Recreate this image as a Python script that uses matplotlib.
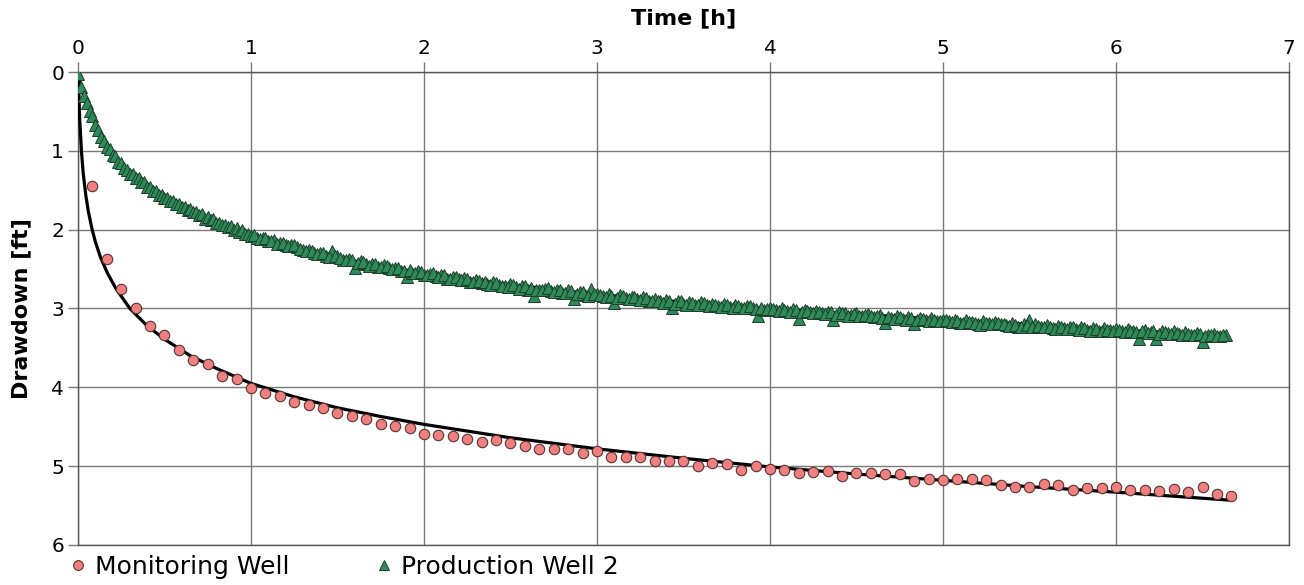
import matplotlib

matplotlib.use("Agg")
import matplotlib.pyplot as plt
from matplotlib.lines import Line2D

# Monitoring well observations (time in hours, drawdown in ft)
mon_time = [
    0.083, 0.167, 0.250, 0.333, 0.417, 0.500, 0.583, 0.667, 0.750, 0.833,
    0.917, 1.000, 1.083, 1.167, 1.250, 1.333, 1.417, 1.500, 1.583, 1.667,
    1.750, 1.833, 1.917, 2.000, 2.083, 2.167, 2.250, 2.333, 2.417, 2.500,
    2.583, 2.667, 2.750, 2.833, 2.917, 3.000, 3.083, 3.167, 3.250, 3.333,
    3.417, 3.500, 3.583, 3.667, 3.750, 3.833, 3.917, 4.000, 4.083, 4.167,
    4.250, 4.333, 4.417, 4.500, 4.583, 4.667, 4.750, 4.833, 4.917, 5.000,
    5.083, 5.167, 5.250, 5.333, 5.417, 5.500, 5.583, 5.667, 5.750, 5.833,
    5.917, 6.000, 6.083, 6.167, 6.250, 6.333, 6.417, 6.500, 6.583, 6.667,
]
mon_draw = [
    1.44, 2.37, 2.75, 3.00, 3.22, 3.34, 3.53, 3.65, 3.70, 3.86,
    3.90, 4.01, 4.07, 4.11, 4.18, 4.22, 4.26, 4.33, 4.37, 4.40,
    4.47, 4.49, 4.52, 4.59, 4.60, 4.62, 4.65, 4.69, 4.67, 4.71,
    4.75, 4.78, 4.78, 4.78, 4.83, 4.81, 4.89, 4.89, 4.89, 4.93,
    4.93, 4.94, 5.00, 4.96, 4.97, 5.05, 5.00, 5.03, 5.05, 5.09,
    5.08, 5.06, 5.12, 5.09, 5.09, 5.10, 5.10, 5.19, 5.16, 5.17,
    5.16, 5.16, 5.18, 5.24, 5.26, 5.27, 5.23, 5.24, 5.30, 5.28,
    5.28, 5.27, 5.30, 5.30, 5.32, 5.29, 5.33, 5.27, 5.35, 5.38,
]

# fitted curve, monitoring well
mon_fit_time = [
    0.0, 0.003, 0.005, 0.01, 0.02, 0.03, 0.045, 0.06, 0.08, 0.1, 0.13,
    0.17, 0.22, 0.3, 0.4, 0.5, 0.65, 0.8, 1.0, 1.25, 1.5, 1.75, 2.0,
    2.5, 3.0, 3.5, 4.0, 4.5, 5.0, 5.5, 6.0, 6.65,
]
mon_fit_draw = [
    0.0, 0.08, 0.25, 0.6, 1.0, 1.28, 1.56, 1.77, 1.98, 2.15, 2.35,
    2.55, 2.75, 3.0, 3.22, 3.39, 3.60, 3.76, 3.95, 4.12, 4.26, 4.37, 4.47,
    4.64, 4.78, 4.90, 5.01, 5.10, 5.18, 5.26, 5.33, 5.43,
]

# Production well 2 observations, time in minutes (every minute for the
# first hour, then even and odd minutes kept in two lists)
prod_minutes = list(range(0, 61)) + list(range(62, 399, 2))
prod_draw = [
    0.02, 0.19, 0.31, 0.39, 0.49, 0.56, 0.67, 0.73, 0.83, 0.87,
    0.95, 0.98, 1.05, 1.07, 1.14, 1.16, 1.22, 1.24, 1.29, 1.30,
    1.35, 1.35, 1.39, 1.40, 1.46, 1.46, 1.51, 1.51, 1.56, 1.56,
    1.60, 1.60, 1.64, 1.63, 1.68, 1.68, 1.71, 1.71, 1.75, 1.74,
    1.78, 1.78, 1.81, 1.80, 1.86, 1.84, 1.88, 1.87, 1.92, 1.91,
    1.94, 1.94, 1.97, 1.95, 2.00, 1.98, 2.03, 2.01, 2.05, 2.05,
    2.08,
    2.10, 2.10, 2.14, 2.13, 2.17, 2.20, 2.19, 2.22, 2.26, 2.26,
    2.30, 2.29, 2.33, 2.27, 2.33, 2.38, 2.37, 2.49, 2.40, 2.44,
    2.44, 2.47, 2.45, 2.49, 2.48, 2.52, 2.60, 2.55, 2.53, 2.57,
    2.56, 2.59, 2.57, 2.62, 2.60, 2.63, 2.61, 2.66, 2.64, 2.68,
    2.69, 2.66, 2.70, 2.72, 2.69, 2.73, 2.71, 2.76, 2.84, 2.76,
    2.75, 2.78, 2.76, 2.80, 2.77, 2.88, 2.79, 2.83, 2.75, 2.82,
    2.84, 2.82, 2.93, 2.83, 2.87, 2.85, 2.88, 2.86, 2.90, 2.88,
    2.91, 2.89, 3.00, 2.90, 2.94, 2.92, 2.95, 2.92, 2.96, 2.94,
    2.97, 2.94, 2.98, 2.96, 2.99, 2.97, 3.00, 3.09, 3.02, 2.99,
    3.02, 3.00, 3.03, 3.01, 3.13, 3.02, 3.05, 3.03, 3.06, 3.04,
    3.15, 3.05, 3.06, 3.08, 3.06, 3.09, 3.07, 3.11, 3.08, 3.18,
    3.12, 3.10, 3.13, 3.11, 3.20, 3.12, 3.15, 3.12, 3.16, 3.14,
    3.16, 3.15, 3.18, 3.15, 3.17, 3.20, 3.16, 3.19, 3.17, 3.20,
    3.21, 3.19, 3.24, 3.20, 3.15, 3.20, 3.23, 3.21, 3.25, 3.22,
    3.25, 3.23, 3.26, 3.24, 3.27, 3.25, 3.28, 3.25, 3.27, 3.26,
    3.28, 3.26, 3.29, 3.39, 3.27, 3.30, 3.39, 3.28, 3.31, 3.29,
    3.32, 3.30, 3.33, 3.31, 3.42, 3.33, 3.32, 3.35, 3.34,
]
prod_minutes_odd = list(range(61, 398, 2))
prod_draw_odd = [
    2.07, 2.12, 2.11, 2.15, 2.18, 2.17, 2.21, 2.20, 2.24, 2.27,
    2.27, 2.31, 2.30, 2.35, 2.34, 2.36, 2.39, 2.38, 2.42, 2.41,
    2.46, 2.43, 2.47, 2.46, 2.50, 2.49, 2.53, 2.51, 2.55, 2.54,
    2.58, 2.55, 2.60, 2.58, 2.62, 2.60, 2.64, 2.62, 2.66, 2.65,
    2.67, 2.70, 2.68, 2.71, 2.73, 2.70, 2.75, 2.72, 2.74, 2.77,
    2.77, 2.74, 2.79, 2.77, 2.80, 2.78, 2.82, 2.79, 2.84, 2.81,
    2.83, 2.86, 2.84, 2.87, 2.84, 2.88, 2.86, 2.89, 2.87, 2.91,
    2.90, 2.93, 2.91, 2.94, 2.91, 2.95, 2.93, 2.96, 2.93, 2.97,
    2.95, 2.98, 2.96, 2.99, 2.97, 3.00, 2.97, 3.01, 2.99, 3.01,
    3.01, 3.03, 3.02, 3.04, 3.02, 3.05, 3.03, 3.06, 3.04, 3.07,
    3.05, 3.08, 3.06, 3.09, 3.07, 3.10, 3.08, 3.10, 3.09, 3.12,
    3.11, 3.13, 3.11, 3.14, 3.12, 3.15, 3.13, 3.16, 3.14, 3.16,
    3.15, 3.17, 3.16, 3.19, 3.17, 3.18, 3.21, 3.18, 3.20, 3.19,
    3.20, 3.22, 3.21, 3.23, 3.21, 3.24, 3.22, 3.24, 3.23, 3.26,
    3.24, 3.26, 3.24, 3.27, 3.25, 3.28, 3.26, 3.28, 3.27, 3.29,
    3.27, 3.30, 3.28, 3.30, 3.29, 3.31, 3.29, 3.32, 3.30, 3.32,
    3.31, 3.33, 3.32, 3.34, 3.32, 3.35, 3.33, 3.35, 3.34,
]
prod_time = [m / 60.0 for m in prod_minutes + prod_minutes_odd]
prod_all = prod_draw + prod_draw_odd

# fitted curve, production well 2
prod_fit_time = [
    0.0, 0.0167, 0.033, 0.05, 0.067, 0.1, 0.133, 0.167, 0.2, 0.25, 0.333,
    0.4, 0.5, 0.6, 0.7, 0.8, 1.0, 1.333, 1.667, 2.0, 2.5, 3.0, 3.5, 4.0,
    4.5, 5.0, 5.5, 6.0, 6.63,
]
prod_fit_draw = [
    0.0, 0.2, 0.30, 0.40, 0.48, 0.66, 0.82, 0.94, 1.04, 1.17, 1.34,
    1.45, 1.59, 1.70, 1.80, 1.91, 2.07, 2.27, 2.43, 2.55, 2.70, 2.82, 2.92,
    3.00, 3.07, 3.14, 3.20, 3.27, 3.34,
]

x_ticks = [0, 1, 2, 3, 4, 5, 6, 7]
y_ticks = [0, 1, 2, 3, 4, 5, 6]

circle_face = "#f08080"
circle_edge = "#5a3232"
tri_face = "#2e8b57"
tri_edge = "#1c3f2b"
grid_col = "#7a7a7a"

fig = plt.figure(figsize=(13.04, 5.85), dpi=100)
ax = fig.add_axes([0.0598, 0.0684, 0.9287, 0.8085])

ax.plot(mon_fit_time, mon_fit_draw, color="black", lw=2.3, zorder=3)
ax.plot(prod_fit_time, prod_fit_draw, color="black", lw=2.3, zorder=3)
ax.plot(prod_time, prod_all, ls="none", marker="^", ms=8.5,
        mfc=tri_face, mec=tri_edge, mew=0.7, zorder=4)
ax.plot(mon_time, mon_draw, ls="none", marker="o", ms=7.5,
        mfc=circle_face, mec=circle_edge, mew=0.8, zorder=5)

ax.set_xlim(0, 7)
ax.set_ylim(6, 0)
ax.set_xticks(x_ticks)
ax.set_yticks(y_ticks)
ax.xaxis.tick_top()
ax.xaxis.set_label_position("top")
ax.tick_params(axis="both", direction="out", length=7, width=1,
               color=grid_col, labelsize=14.5, pad=3)
ax.grid(True, color=grid_col, lw=1)
ax.set_axisbelow(True)
for s in ax.spines.values():
    s.set_color("#555555")
    s.set_linewidth(1)

ax.set_xlabel("Time [h]", fontsize=16, fontweight="bold", labelpad=11)
ax.set_ylabel("Drawdown [ft]", fontsize=16, fontweight="bold", labelpad=14)

handles = [
    Line2D([], [], ls="none", marker="o", ms=7, mfc=circle_face,
           mec=circle_edge, mew=0.8),
    Line2D([], [], ls="none", marker="^", ms=6.5, mfc=tri_face,
           mec=tri_edge, mew=0.7),
]
fig.legend(handles, ["Monitoring Well", "Production Well 2"],
           loc="center left", bbox_to_anchor=(0.0524, 0.031), ncol=2,
           frameon=False, fontsize=18, handlelength=0.8, handletextpad=0.26,
           columnspacing=3.4, borderpad=0, borderaxespad=0)

fig.savefig("out.png", dpi=100)
